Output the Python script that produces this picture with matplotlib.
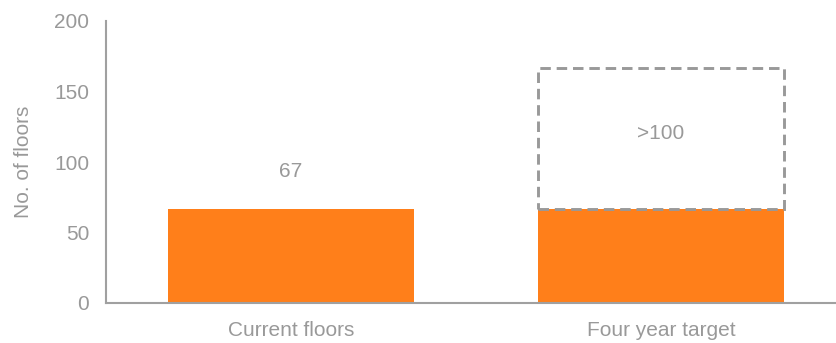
import matplotlib
matplotlib.use("Agg")
import matplotlib.pyplot as plt

categories = ["Current floors", "Four year target"]
current_values = [67, 67]
target_extra = [0, 100]
value_labels = ["67", ">100"]
yticks = [0, 50, 100, 150, 200]

plt.rcParams['font.family'] = ['Liberation Sans', 'DejaVu Sans']
grey = "#999999"
orange = "#FF7F1A"

fig = plt.figure(figsize=(8.37, 3.43), dpi=100)
ax = fig.add_axes([106/837, (343-303)/343, (835-106)/837, (303-21)/343])

x = list(range(len(categories)))
width = 0.667
ax.bar(x, current_values, width=width, color=orange, zorder=2)
ax.bar([x[1]], [target_extra[1]], bottom=[current_values[1]], width=width,
       fill=False, edgecolor=grey, linewidth=2.1, linestyle=(0, (3.6, 2.0)), zorder=3)

ax.text(x[0], current_values[0] + 26, value_labels[0], ha="center", va="center",
        color=grey, fontsize=15)
ax.text(x[1], current_values[1] + target_extra[1] * 0.535, value_labels[1], ha="center",
        va="center", color=grey, fontsize=15)

ax.set_xlim(-0.5, 1.47)
ax.set_ylim(0, 200)
ax.set_yticks(yticks)
ax.set_xticks(x)
ax.set_xticklabels(categories)
ax.tick_params(axis="both", length=0, colors=grey, labelsize=15)
ax.tick_params(axis="y", pad=12)
ax.tick_params(axis="x", pad=13)
ax.set_ylabel("No. of floors", color=grey, fontsize=15, labelpad=15)

for s in ["top", "right"]:
    ax.spines[s].set_visible(False)
for s in ["left", "bottom"]:
    ax.spines[s].set_color("#A0A0A0")
    ax.spines[s].set_linewidth(1.5)

fig.savefig("out.png", dpi=100)
